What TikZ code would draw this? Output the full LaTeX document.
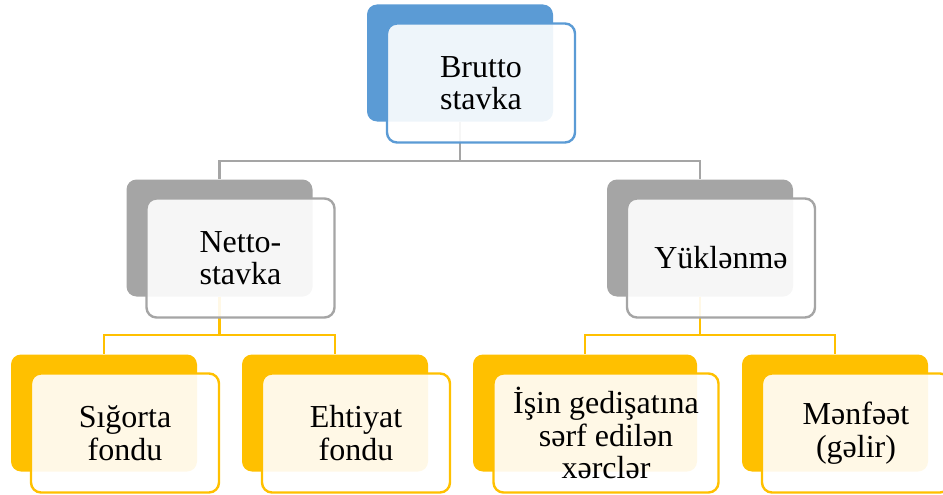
\documentclass[tikz,border=0pt]{standalone}
\usepackage{fontspec}
\setmainfont{Liberation Serif}

\definecolor{blueacc}{HTML}{5B9BD5}
\definecolor{greyacc}{HTML}{A5A5A5}
\definecolor{goldacc}{HTML}{FFC000}

\begin{document}
\begin{tikzpicture}[x=1pt, y=-1pt,
    back/.style={rectangle, rounded corners=10pt, fill=#1, minimum width=186pt, minimum height=117pt, inner sep=0pt},
    front/.style={rectangle, rounded corners=10pt, draw=#1, line width=2.4pt, fill=white, fill opacity=0.9, text opacity=1,
        minimum width=188pt, minimum height=119pt, inner sep=0pt, align=center, font=\fontsize{32}{32.5}\selectfont},
    link/.style={draw=#1, line width=2.4pt}]
    \useasboundingbox (0,0) rectangle (943,495);
    % back boxes
    \node[back=blueacc] (bBrutto) at (460,63) {};
    \node[back=greyacc] (bNetto) at (219.5,238) {};
    \node[back=greyacc] (bYuk) at (700,238) {};
    \node[back=goldacc] (bSig) at (104,413) {};
    \node[back=goldacc] (bEht) at (335,413) {};
    \node[back=goldacc, minimum width=224pt] (bIsin) at (585,413) {};
    \node[back=goldacc] (bMenf) at (835,413) {};
    % connectors
    \draw[link=greyacc] (bBrutto.south) -- ++(0,39) -| (bNetto.north);
    \draw[link=greyacc] (bBrutto.south) -- ++(0,39) -| (bYuk.north);
    \draw[link=goldacc] (bNetto.south) -- ++(0,38) -| (bSig.north);
    \draw[link=goldacc] (bNetto.south) -- ++(0,38) -| (bEht.north);
    \draw[link=goldacc] (bYuk.south) -- ++(0,38) -| (bIsin.north);
    \draw[link=goldacc] (bYuk.south) -- ++(0,38) -| (bMenf.north);
    % front boxes
    \node[front=blueacc, xshift=21pt, yshift=-20pt] (fBrutto) at (bBrutto) {Brutto\\stavka};
    \node[front=greyacc, xshift=21pt, yshift=-20pt] (fNetto) at (bNetto) {Netto-\\stavka};
    \node[front=greyacc, xshift=21pt, yshift=-20pt] (fYuk) at (bYuk) {Yüklənmə};
    \node[front=goldacc, xshift=21pt, yshift=-20pt] (fSig) at (bSig) {Sığorta\\fondu};
    \node[front=goldacc, xshift=21pt, yshift=-20pt] (fEht) at (bEht) {Ehtiyat\\fondu};
    \node[front=goldacc, xshift=21pt, yshift=-20pt, minimum width=225pt] (fIsin) at (bIsin) {İşin gedişatına\\sərf edilən\\xərclər};
    \node[front=goldacc, xshift=21pt, yshift=-20pt] (fMenf) at (bMenf) {Mənfəət\\(gəlir)};
\end{tikzpicture}
\end{document}
